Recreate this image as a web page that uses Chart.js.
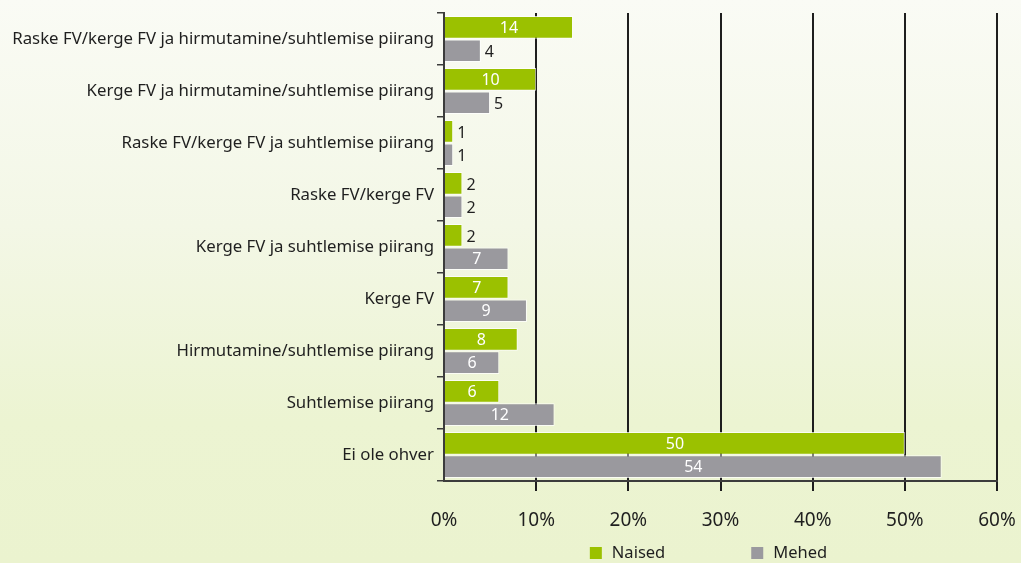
<!DOCTYPE html>
<html>
<head>
<meta charset="utf-8">
<script src="https://cdn.jsdelivr.net/npm/chart.js@4"></script>
<style>
  html, body { margin: 0; padding: 0; }
  body {
    width: 1021px; height: 563px; overflow: hidden;
    background: linear-gradient(to bottom, #fafbf5 0%, #f3f7e6 40%, #ecf4d2 75%, #ebf3cf 100%);
  }
  #wrap { position: relative; width: 1021px; height: 563px; }
</style>
</head>
<body>
<div id="wrap"><canvas id="chart" width="1021" height="563"></canvas></div>
<script>
// categories top to bottom
const categories = [
  'Raske FV/kerge FV ja hirmutamine/suhtlemise piirang',
  'Kerge FV ja hirmutamine/suhtlemise piirang',
  'Raske FV/kerge FV ja suhtlemise piirang',
  'Raske FV/kerge FV',
  'Kerge FV ja suhtlemise piirang',
  'Kerge FV',
  'Hirmutamine/suhtlemise piirang',
  'Suhtlemise piirang',
  'Ei ole ohver'
];
const naised = [14, 10, 1, 2, 2, 7, 8, 6, 50];
const mehed = [4, 5, 1, 2, 7, 9, 6, 12, 54];
const seriesNames = ['Naised', 'Mehed'];

const COLORS = {
  women: '#9bc100',
  men: '#9a999e',
  edge: 'rgba(255, 255, 255, 0.75)',
  grid: '#1e1e1e',
  axis: '#3c3c3c',
  text: '#1f1f1f'
};
const FONT = '"Noto Sans", sans-serif';

// value labels: white inside wide bars, dark beside short ones
const barLabels = {
  id: 'barLabels',
  afterDatasetsDraw(chart) {
    const ctx = chart.ctx;
    ctx.save();
    ctx.font = '16px ' + FONT;
    ctx.textBaseline = 'middle';
    chart.data.datasets.forEach((ds, i) => {
      chart.getDatasetMeta(i).data.forEach((bar, j) => {
        const v = ds.data[j];
        if (v >= 6) {
          ctx.fillStyle = '#ffffff';
          ctx.textAlign = 'center';
          ctx.fillText(v, (bar.base + bar.x) / 2, bar.y + 1);
        } else {
          ctx.fillStyle = COLORS.text;
          ctx.textAlign = 'left';
          ctx.fillText(v, bar.x + 4, bar.y + 2);
        }
      });
    });
    ctx.restore();
  }
};

// legend with wide gap between the two entries
const wideLegend = {
  id: 'wideLegend',
  afterDraw(chart) {
    const ctx = chart.ctx;
    const area = chart.chartArea;
    ctx.save();
    ctx.font = '16.5px ' + FONT;
    ctx.textBaseline = 'middle';
    const box = 12, gapText = 10, gapItem = 86;
    const items = chart.data.datasets.map(ds => ({
      text: ds.label, color: ds.backgroundColor,
      w: box + gapText + ctx.measureText(ds.label).width
    }));
    const total = items.reduce((s, it) => s + it.w, 0) + gapItem * (items.length - 1);
    let x = (area.left + area.right) / 2 - 12 - total / 2;
    const y = 553;
    items.forEach(it => {
      ctx.fillStyle = it.color;
      ctx.fillRect(x, y - box / 2, box, box);
      ctx.fillStyle = COLORS.text;
      ctx.textAlign = 'left';
      ctx.fillText(it.text, x + box + gapText, y);
      x += it.w + gapItem;
    });
    ctx.restore();
  }
};

new Chart(document.getElementById('chart'), {
  type: 'bar',
  data: {
    labels: categories,
    datasets: [
      {
        label: seriesNames[0],
        data: naised,
        backgroundColor: COLORS.women,
        borderColor: COLORS.edge,
        borderWidth: 1,
        categoryPercentage: 0.9,
        barPercentage: 0.97
      },
      {
        label: seriesNames[1],
        data: mehed,
        backgroundColor: COLORS.men,
        borderColor: COLORS.edge,
        borderWidth: 1,
        categoryPercentage: 0.9,
        barPercentage: 0.97
      }
    ]
  },
  options: {
    indexAxis: 'y',
    responsive: false,
    animation: false,
    devicePixelRatio: 1,
    layout: { padding: { top: 13, right: 24, bottom: 24, left: 0 } },
    plugins: {
      legend: { display: false },
      tooltip: { enabled: false }
    },
    scales: {
      x: {
        min: 0,
        max: 60,
        afterFit: s => { s.height = 58; s.paddingLeft = 0; s.paddingRight = 0; },
        border: { display: true, color: COLORS.axis, width: 2 },
        grid: {
          color: c => (c.tick && c.tick.value === 0) ? 'rgba(0,0,0,0)' : COLORS.grid,
          lineWidth: 2,
          tickLength: 10
        },
        ticks: {
          stepSize: 10,
          padding: 18,
          color: COLORS.text,
          font: { family: FONT, size: 19 },
          callback: v => v + '%'
        }
      },
      y: {
        afterFit: s => { s.width = 444; },
        border: { display: true, color: COLORS.axis, width: 2 },
        grid: {
          offset: true,
          drawOnChartArea: false,
          color: COLORS.axis,
          lineWidth: 1.5,
          tickLength: 7
        },
        ticks: {
          padding: 3,
          color: COLORS.text,
          font: { family: FONT, size: 16.8 }
        }
      }
    }
  },
  plugins: [barLabels, wideLegend]
});
</script>
</body>
</html>
